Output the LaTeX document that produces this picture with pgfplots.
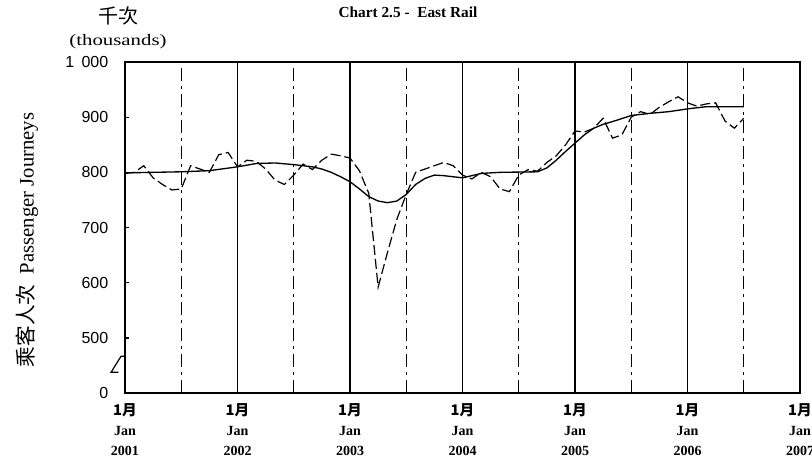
\documentclass[border=0pt]{standalone}
\usepackage{fontspec}
\setmainfont{Liberation Serif}
\newfontfamily\cjk{Noto Sans CJK TC}
\newfontfamily\numfont{Liberation Sans}
\usepackage{pgfplots}
\usepackage{pgfplotstable}
\pgfplotsset{compat=1.18}

% monthly passenger journeys (thousands), month 0 = Jan 2001
\pgfplotstableread{
m v
0 798
1 800
2 812
3 790
4 778
5 768
6 770
7 812
8 806
9 800
10 832
11 836
12 810
13 822
14 820
15 806
16 786
17 778
18 795
19 815
20 805
21 822
22 833
23 830
24 826
25 803
26 762
27 592
28 655
29 715
30 760
31 800
32 806
33 812
34 818
35 812
36 795
37 788
38 800
39 792
40 770
41 765
42 795
43 805
44 802
45 818
46 830
47 850
48 875
49 873
50 880
51 898
52 862
53 868
54 900
55 910
56 905
57 918
58 928
59 937
60 926
61 920
62 924
63 926
64 893
65 880
66 898
}\monthly

% trend
\pgfplotstableread{
m v
0 799
3 800
6 801
9 803
12 810
14 816
16 817
18 814
20 810
21 806
22 800
23 792
24 783
25 770
26 756
27 748
28 745
29 748
30 760
31 778
32 789
33 795
34 794
36 790
38 798
40 800
44 801
45 808
46 822
47 838
48 853
49 868
50 880
51 887
52 892
54 903
56 907
58 910
60 915
62 919
64 919
66 919
}\trend

\begin{document}
\begin{tikzpicture}
\useasboundingbox (-93.75pt,-51.75pt) rectangle (515.25pt,294.75pt);
\begin{axis}[
  at={(0,0)}, anchor=south west,
  scale only axis,
  width=506.25pt, height=248.25pt,
  xmin=0, xmax=72, ymin=400, ymax=1000,
  axis line style={line width=1.2pt},
  xtick={0,12,...,72},
  xticklabels={
    {{\cjk\fontsize{11}{15}\selectfont 1月}\\Jan\\2001},
    {{\cjk\fontsize{11}{15}\selectfont 1月}\\Jan\\2002},
    {{\cjk\fontsize{11}{15}\selectfont 1月}\\Jan\\2003},
    {{\cjk\fontsize{11}{15}\selectfont 1月}\\Jan\\2004},
    {{\cjk\fontsize{11}{15}\selectfont 1月}\\Jan\\2005},
    {{\cjk\fontsize{11}{15}\selectfont 1月}\\Jan\\2006},
    {{\cjk\fontsize{11}{15}\selectfont 1月}\\Jan\\2007}},
  xticklabel style={align=center, font=\fontsize{10.5}{15}\selectfont\bfseries,
    anchor=north, inner sep=0pt, yshift=-7.5pt},
  minor xtick={6,18,...,66},
  xmajorgrids, xminorgrids,
  major x grid style={black, line width=1.1pt},
  minor x grid style={black, line width=1.1pt,
    dash pattern=on 9.75pt off 3.75pt on 2.25pt off 3.75pt},
  ytick={400,500,...,1000},
  yticklabels={0,500,600,700,800,900,1\hspace{0.45em}000},
  yticklabel style={font=\numfont\fontsize{12}{13}\selectfont, xshift=-9pt},
  tick align=inside, tick pos=left,
  major tick length=3pt, minor tick length=3pt,
  x tick style={draw=none},
  minor x tick style={black, line width=1pt},
  y tick style={black, line width=1pt},
  clip=false,
]
\addplot[black, line width=0.9pt, dash pattern=on 7.5pt off 3pt] table[x=m, y=v] {\monthly};
\addplot[black, line width=1pt] table[x=m, y=v] {\trend};
\end{axis}
% axis break
\draw[line width=0.9pt] (0,27.5pt) -- (-3pt,27.5pt) -- (-10.5pt,15.5pt) -- (-5pt,15.5pt);
\node[font=\fontsize{11.5}{13}\selectfont\bfseries] at (212.25pt,285.75pt) {Chart 2.5 -\ \ East Rail};
\node[font=\cjk\fontsize{15}{16}\selectfont] at (-5.25pt,282.5pt) {千次};
\node[font=\fontsize{12}{13}\selectfont, xscale=1.3] at (-5.25pt,263.5pt) {(thousands)};
\node[rotate=90, font=\fontsize{15.5}{16}\selectfont] at (-73.5pt,114.75pt) {{\cjk 乘客人次}\ \ Passenger Journeys};
\end{tikzpicture}
\end{document}
